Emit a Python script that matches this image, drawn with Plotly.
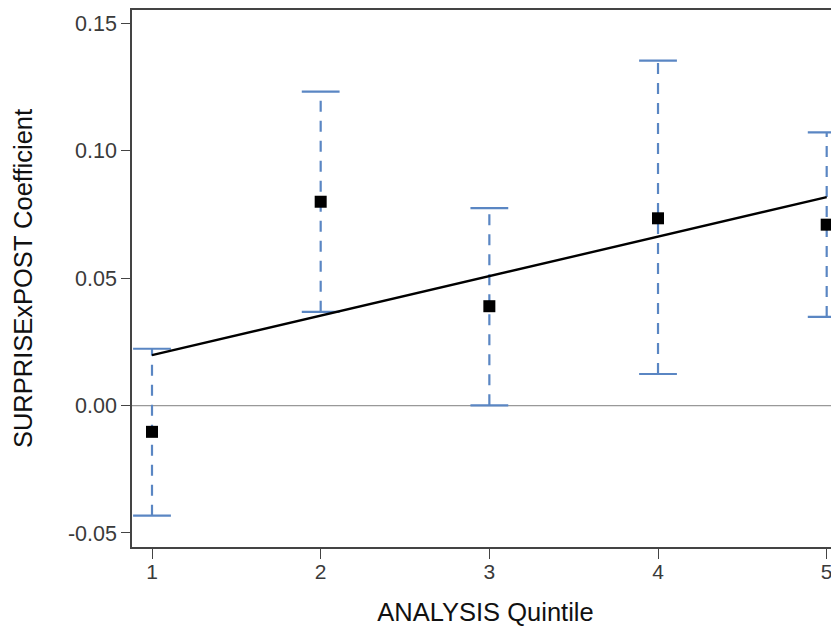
import plotly.graph_objects as go

quintiles = [1, 2, 3, 4, 5]
coef = [-0.0103, 0.0800, 0.0390, 0.0735, 0.0710]
ci_upper = [0.0223, 0.1232, 0.0775, 0.1354, 0.1072]
ci_lower = [-0.0432, 0.0368, 0.0001, 0.0124, 0.0348]
fit_x = [1, 5]
fit_y = [0.0198, 0.0818]

x_ticks = [1, 2, 3, 4, 5]
y_ticks = [-0.05, 0.00, 0.05, 0.10, 0.15]
y_ticklabels = ["-0.05", "0.00", "0.05", "0.10", "0.15"]

err_color = "#5a86c3"
font_family = "Liberation Sans, Arial, sans-serif"

# vertical dashed segments
vx, vy = [], []
for q, lo, hi in zip(quintiles, ci_lower, ci_upper):
    vx += [q, q, None]
    vy += [lo, hi, None]

fig = go.Figure()

fig.add_trace(go.Scatter(
    x=vx, y=vy, mode="lines",
    line=dict(color=err_color, width=2.2, dash="11px,9px"),
    hoverinfo="skip", showlegend=False,
))
# caps
fig.add_trace(go.Scatter(
    x=quintiles + quintiles, y=ci_upper + ci_lower, mode="markers",
    marker=dict(symbol="line-ew", size=27, line=dict(color=err_color, width=2.2)),
    hoverinfo="skip", showlegend=False,
))
# regression line
fig.add_trace(go.Scatter(
    x=fit_x, y=fit_y, mode="lines",
    line=dict(color="black", width=2.4),
    showlegend=False,
))
# coefficients
fig.add_trace(go.Scatter(
    x=quintiles, y=coef, mode="markers",
    marker=dict(symbol="square", size=12, color="black"),
    showlegend=False,
))

fig.add_hline(y=0, line=dict(color="#999999", width=1.2), layer="below")

fig.update_layout(
    width=831, height=618,
    margin=dict(l=124, r=0, t=2, b=74),
    paper_bgcolor="white", plot_bgcolor="white",
    font=dict(family=font_family, color="#000000"),
    showlegend=False,
)
fig.update_xaxes(
    range=[0.8814, 5.073],
    tickmode="array", tickvals=x_ticks,
    ticks="outside", ticklen=10, tickwidth=1.2, tickcolor="#444444",
    tickfont=dict(size=21, color="#3a3a3a"), ticklabelstandoff=-5,
    showline=True, linecolor="#444444", linewidth=1.5, mirror=True,
    showgrid=False, zeroline=False,
    title=dict(text="ANALYSIS Quintile", font=dict(size=25.5, color="#111111"), standoff=25),
)
fig.update_yaxes(
    range=[-0.0555, 0.15525],
    tickmode="array", tickvals=y_ticks, ticktext=y_ticklabels,
    ticks="outside", ticklen=9, tickwidth=1.2, tickcolor="#444444",
    tickfont=dict(size=21.5, color="#3a3a3a"),
    showline=True, linecolor="#444444", linewidth=1.5, mirror=False,
    showgrid=False, zeroline=False,
    title=dict(text="SURPRISExPOST Coefficient", font=dict(size=25.5, color="#111111"), standoff=28),
)

fig.write_html("out.html")
